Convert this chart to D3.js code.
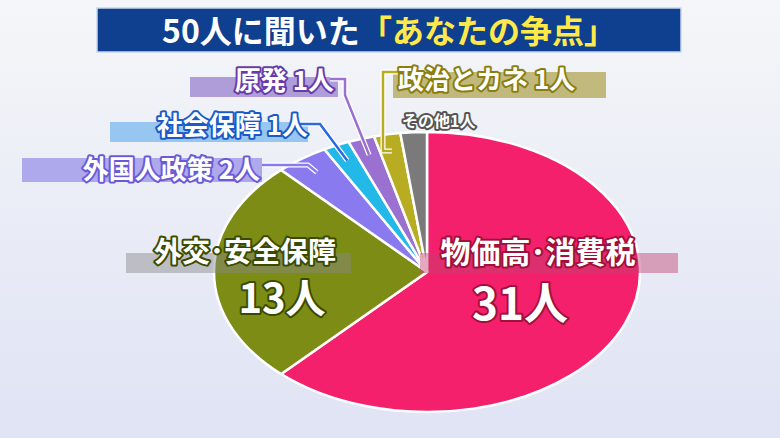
<!DOCTYPE html><html><head><meta charset="utf-8"><script src="https://d3js.org/d3.v7.min.js"></script>
<style>body{margin:0}</style></head><body><script>
const categories=["物価高･消費税","外交･安全保障","外国人政策","社会保障","原発","政治とカネ","その他"];
const values=[31,13,2,1,1,1,1];
const colors=["#f5206b","#7c8c14","#8a7af0","#22b8e8","#9a70d0","#b8ac22","#7a7a7a"];
const W=780,H=438;
const svg=d3.select("body").append("svg").attr("width",W).attr("height",H).style("font-family","'Noto Sans CJK JP'");
const defs=svg.append("defs");
const g0=defs.append("linearGradient").attr("id","bg").attr("x1",0).attr("y1",0).attr("x2",0).attr("y2",1);
g0.append("stop").attr("offset",0).attr("stop-color","#f4f6f8");g0.append("stop").attr("offset",1).attr("stop-color","#dfe3f4");
svg.append("rect").attr("width",W).attr("height",H).attr("fill","url(#bg)");
svg.append("rect").attr("x",97).attr("y",8).attr("width",584).attr("height",44).attr("fill","#0f3f8f").attr("stroke","#c9d6f0").attr("stroke-width",1.5);
const t=svg.append("text").attr("x",389).attr("y",43).attr("text-anchor","middle").attr("font-size",32).attr("font-weight","bold");
t.append("tspan").attr("fill","#fff").text("50人に聞いた");
t.append("tspan").attr("fill","#ffe94a").text("「あなたの争点」");
const cx=427,cy=272,rx=213,ry=140;
const pie=d3.pie().sort(null)(values);
const arc=d3.arc().innerRadius(0).outerRadius(rx);
const pg=svg.append("g").attr("transform",`translate(${cx},${cy}) scale(1,${ry/rx})`);
pg.selectAll("path").data(pie).join("path").attr("d",arc).attr("fill",(d,i)=>colors[i])
 .attr("stroke","#fff").attr("stroke-width",2.5).attr("vector-effect","non-scaling-stroke");
function pt(a,r){return [cx+Math.sin(a)*r*rx,cy-Math.cos(a)*r*ry];}
const bands=[
 {x:190,y:77,w:148,h:20,c:"#9a80d0"},
 {x:110,y:122,w:198,h:20,c:"#7ab8ee"},
 {x:22,y:158,w:240,h:24,c:"#9a90ea"}
];
bands.forEach(b=>svg.append("rect").attr("x",b.x).attr("y",b.y).attr("width",b.w).attr("height",b.h).attr("fill",b.c).attr("opacity",0.75));
svg.append("rect").attr("x",393).attr("y",72).attr("width",213).attr("height",26).attr("fill","#a89a3a").attr("opacity",0.65);
function leader(i,pts,c){const d=pie[i];const a=(d.startAngle+d.endAngle)/2;const p=pt(a,0.88);
 const all=[...pts,p];svg.append("path").attr("d",d3.line()(all)).attr("fill","none").attr("stroke","#fff").attr("stroke-width",5);
 svg.append("path").attr("d",d3.line()(all)).attr("fill","none").attr("stroke",c).attr("stroke-width",2.5);}
leader(5,[[398,72],[383,72],[383,pt((pie[5].startAngle+pie[5].endAngle)/2,0.88)[1]]],"#b8ac22");
leader(4,[[330,79],[345,79],[345,95]],"#9a70d0");
leader(3,[[300,124],[320,124]],"#2a6ae0");
leader(2,[[262,165],[308,165]],"#8a7af0");
function label(x,y,s,fs,anchor,stroke){svg.append("text").attr("x",x).attr("y",y).attr("text-anchor",anchor).attr("font-size",fs).attr("font-weight","bold")
 .attr("fill","#fff").attr("stroke",stroke).attr("stroke-width",4).attr("paint-order","stroke").attr("stroke-linejoin","round").text(s);}
label(398,89,categories[5]+" "+values[5]+"人",26,"start","#8a7e10");
label(334,90,categories[4]+" "+values[4]+"人",26,"end","#6a3aa8");
label(308,135,categories[3]+" "+values[3]+"人",26,"end","#1a5ac8");
label(260,179,categories[2]+" "+values[2]+"人",26,"end","#6a5ad8");
label(402,127,categories[6]+values[6]+"人",16,"start","#555");
svg.append("rect").attr("x",126).attr("y",253).attr("width",225).attr("height",20).attr("fill","#888").attr("opacity",0.45);
svg.append("rect").attr("x",420).attr("y",253).attr("width",258).attr("height",20).attr("fill","#c04070").attr("opacity",0.45);
label(245,262,categories[1],28,"middle","#3a4a00");
label(282,313,values[1]+"人",40,"middle","#3a4a00");
label(538,263,categories[0],30,"middle","#a0103a");
label(520,320,values[0]+"人",44,"middle","#a0103a");
</script></body></html>
